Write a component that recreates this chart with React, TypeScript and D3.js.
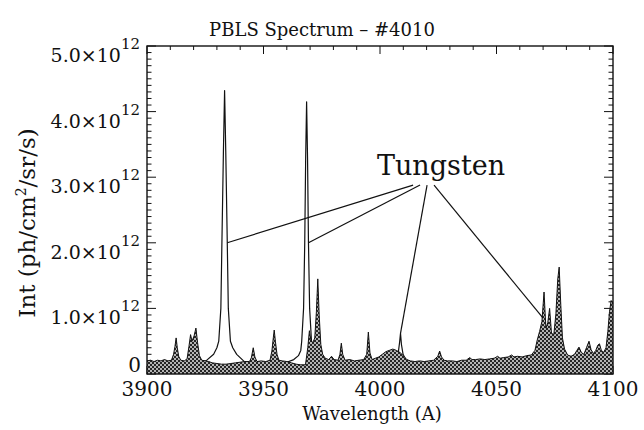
import React from "react";
import * as d3 from "d3";

// Wavelength range (Angstrom) and intensity range (units of 1e12 ph/cm^2/sr/s)
const xDomain: [number, number] = [3900, 4100];
const yDomain: [number, number] = [0, 5];
const xMajorTicks = [3900, 3950, 4000, 4050, 4100];
const yMajorTicks = [0, 1, 2, 3, 4, 5];

// Shaded spectrum (many lines) : [wavelength, intensity/1e12]
const spectrumShaded: [number, number][] = [
  [3900, 0.2], [3901.5, 0.21], [3903, 0.19], [3904.5, 0.21], [3906, 0.2], [3907.5, 0.22],
  [3909, 0.2], [3910.5, 0.21], [3911.4, 0.3], [3912.0, 0.42], [3912.5, 0.55], [3913.0, 0.4],
  [3913.6, 0.27], [3914.5, 0.21], [3916, 0.2], [3917.2, 0.23], [3918.0, 0.42], [3918.7, 0.6],
  [3919.3, 0.5], [3920.2, 0.58], [3921.0, 0.7], [3921.7, 0.48], [3922.5, 0.28], [3923.5, 0.21],
  [3925, 0.2], [3926.5, 0.19], [3928, 0.17], [3930, 0.16], [3932, 0.15], [3934, 0.15],
  [3936, 0.16], [3938, 0.17], [3940, 0.18], [3942, 0.19], [3944, 0.19], [3944.8, 0.25],
  [3945.6, 0.4], [3946.3, 0.26], [3947.2, 0.19], [3949, 0.2], [3951, 0.19], [3952.8, 0.21],
  [3953.6, 0.35], [3954.2, 0.55], [3954.6, 0.67], [3955.1, 0.5], [3955.8, 0.3], [3956.6, 0.21],
  [3958, 0.2], [3960, 0.19], [3962, 0.17], [3964, 0.15], [3966, 0.14], [3968, 0.14],
  [3969.0, 0.4], [3969.7, 0.66], [3970.4, 0.5], [3971.2, 0.48], [3972.0, 0.55], [3972.7, 0.95],
  [3973.3, 1.45], [3973.9, 0.9], [3974.6, 0.45], [3975.4, 0.3], [3976.5, 0.24], [3978, 0.22],
  [3979.2, 0.27], [3980.3, 0.22], [3982, 0.21], [3982.8, 0.3], [3983.4, 0.47], [3984.0, 0.3],
  [3985, 0.21], [3987, 0.22], [3989, 0.2], [3991, 0.21], [3993, 0.22], [3994.3, 0.3],
  [3995.0, 0.64], [3995.7, 0.32], [3996.6, 0.22], [3998, 0.24], [3999.5, 0.26], [4001, 0.3],
  [4002.5, 0.34], [4004, 0.36], [4005.5, 0.38], [4007, 0.36], [4008.5, 0.33], [4010, 0.28],
  [4011.5, 0.22], [4013, 0.2], [4015, 0.19], [4017, 0.2], [4019, 0.19], [4021, 0.2],
  [4023, 0.21], [4024.8, 0.27], [4025.6, 0.35], [4026.4, 0.26], [4027.5, 0.21], [4029, 0.2],
  [4031, 0.2], [4033, 0.19], [4035, 0.21], [4037, 0.21], [4038.5, 0.25], [4039.5, 0.22],
  [4041, 0.22], [4043, 0.23], [4045, 0.22], [4047, 0.23], [4049, 0.24], [4050.5, 0.27],
  [4051.5, 0.24], [4053, 0.25], [4055, 0.26], [4056.5, 0.29], [4057.5, 0.26], [4059, 0.27],
  [4061, 0.26], [4063, 0.28], [4065, 0.29], [4066.5, 0.36], [4067.5, 0.52], [4068.5, 0.65],
  [4069.5, 0.8], [4070.4, 1.25], [4071.2, 0.7], [4072.0, 0.78], [4072.8, 1.0], [4073.6, 0.62],
  [4074.6, 0.6], [4075.5, 0.92], [4076.3, 1.45], [4076.9, 1.63], [4077.6, 1.05], [4078.3, 0.55],
  [4079.2, 0.38], [4080.5, 0.29], [4082, 0.27], [4083.5, 0.3], [4084.5, 0.36], [4085.4, 0.41],
  [4086.4, 0.33], [4087.5, 0.3], [4088.6, 0.4], [4089.7, 0.5], [4090.6, 0.37], [4091.6, 0.31],
  [4092.6, 0.36], [4093.5, 0.44], [4094.2, 0.46], [4095.0, 0.36], [4096, 0.33], [4097, 0.4],
  [4097.8, 0.65], [4098.5, 0.95], [4099.2, 1.12], [4100, 1.08],
];

// Line spectrum (tungsten lines) : [wavelength, intensity/1e12]
const spectrumLine: [number, number][] = [
  [3900, 0.16], [3910, 0.16], [3918, 0.16], [3921.3, 0.17], [3925.3, 0.2], [3928.6, 0.3],
  [3930.0, 0.4], [3930.8, 0.5], [3931.7, 1.0], [3932.15, 2.0], [3932.8, 3.4], [3933.3, 4.32],
  [3933.8, 3.4], [3934.45, 2.0], [3934.9, 1.0], [3935.8, 0.5], [3936.8, 0.4], [3938.5, 0.3],
  [3942, 0.18], [3946, 0.16], [3952, 0.16], [3957, 0.16], [3960, 0.18], [3963, 0.22],
  [3965, 0.28], [3966.0, 0.36], [3966.4, 0.5], [3967.2, 1.0], [3967.7, 2.0], [3968.1, 3.3],
  [3968.5, 4.15], [3968.9, 3.3], [3969.3, 2.0], [3969.8, 1.0], [3970.6, 0.5], [3971.4, 0.36],
  [3972.5, 0.28], [3974, 0.22], [3977, 0.18], [3982, 0.17], [3990, 0.17], [4000, 0.18],
  [4005, 0.2], [4007, 0.24], [4007.9, 0.34], [4008.4, 0.48], [4008.8, 0.62], [4009.2, 0.45],
  [4009.9, 0.3], [4011, 0.22], [4014, 0.17], [4030, 0.17], [4050, 0.18], [4070, 0.2], [4100, 0.2],
];

// "Tungsten" annotation
const labelText = "Tungsten";
const labelPos: [number, number] = [4026.2, 3.03];
const pointerStarts: [number, number][] = [[4014.2, 2.88], [4017.2, 2.88], [4020.2, 2.88], [4023.2, 2.88]];
const pointerTargets: [number, number][] = [[3934.45, 2.0], [3969.3, 2.0], [4008.8, 0.62], [4070.0, 0.85]];

const titleText = "PBLS Spectrum \u2013 #4010";
const xTitle = "Wavelength (A)";
const yTitle = "Int (ph/cm";

const W = 644, H = 430;
const L = 147, R = 613, T = 46, B = 374;
const FONT = "DejaVu Serif, Liberation Serif, serif";

export default function App() {
  const x = d3.scaleLinear().domain(xDomain).range([L, R]);
  const y = d3.scaleLinear().domain(yDomain).range([B, T]);

  const area = d3.area<[number, number]>().x(d => x(d[0])).y0(y(0)).y1(d => y(d[1]));
  const topLine = d3.line<[number, number]>().x(d => x(d[0])).y(d => y(d[1]));

  const xMinor = d3.range(xDomain[0], xDomain[1] + 0.001, 10);
  const yMinor = d3.range(0, 50.001, 1).map(v => v / 10);

  const ticks: JSX.Element[] = [];
  xMinor.forEach((v, i) => {
    const major = xMajorTicks.includes(Math.round(v));
    const len = major ? 8 : 4;
    ticks.push(<line key={"xt" + i} x1={x(v)} x2={x(v)} y1={T} y2={T + len} />);
    ticks.push(<line key={"xb" + i} x1={x(v)} x2={x(v)} y1={B} y2={B - len} />);
  });
  yMinor.forEach((v, i) => {
    const major = Math.abs(v - Math.round(v)) < 1e-6;
    const len = major ? 9 : 4.5;
    ticks.push(<line key={"yl" + i} x1={L} x2={L + len} y1={y(v)} y2={y(v)} />);
    ticks.push(<line key={"yr" + i} x1={R} x2={R - len} y1={y(v)} y2={y(v)} />);
  });

  return (
    <svg width={W} height={H} style={{ position: "absolute", left: 0, top: 0, background: "#fff", fontFamily: FONT }}>
      <defs>
        <pattern id="dots" width={4} height={4} patternUnits="userSpaceOnUse">
          <rect width={4} height={4} fill="#262626" />
          <circle cx={1} cy={1} r={1.0} fill="#e4e4e4" />
          <circle cx={3} cy={3} r={1.0} fill="#e4e4e4" />
        </pattern>
      </defs>
      <rect width={W} height={H} fill="#fff" />

      <text x={322} y={36} textAnchor="middle" fontSize={18} fill="#111">{titleText}</text>

      <g stroke="#111" strokeWidth={1}>{ticks}</g>

      {/* line spectrum first, shaded spectrum drawn over it */}
      <path d={topLine(spectrumLine) || ""} fill="none" stroke="#111" strokeWidth={1.2} strokeLinejoin="round" />
      <path d={area(spectrumShaded) || ""} fill="url(#dots)" stroke="none" />
      <path d={topLine(spectrumShaded) || ""} fill="none" stroke="#111" strokeWidth={1} />

      <rect x={L} y={T} width={R - L} height={B - T} fill="none" stroke="#111" strokeWidth={1.4} />

      {/* y tick labels */}
      {yMajorTicks.map(v => v === 0 ? (
        <text key={"yl" + v} x={L - 6} y={y(v) - 2} textAnchor="end" fontSize={20} fill="#111">0</text>
      ) : (
        <text key={"yl" + v} x={L - 7} y={y(v) + 16} textAnchor="end" fontSize={19} fill="#111">
          {v.toFixed(1)}×10<tspan dy={-13} fontSize={15}>12</tspan>
        </text>
      ))}

      {/* x tick labels */}
      {xMajorTicks.map(v => (
        <text key={"xl" + v} x={x(v)} y={B + 22} textAnchor="middle" fontSize={20} fill="#111">{v}</text>
      ))}

      <text x={372} y={420} textAnchor="middle" fontSize={18} fill="#111">{xTitle}</text>
      <text transform={`translate(35, 223) rotate(-90)`} textAnchor="middle" fontSize={23} fill="#111">
        {yTitle}<tspan dy={-9} fontSize={14}>2</tspan><tspan dy={9}>/sr/s)</tspan>
      </text>

      {/* Tungsten annotation */}
      <text x={x(labelPos[0])} y={y(labelPos[1])} textAnchor="middle" fontSize={27} fill="#111">{labelText}</text>
      <g stroke="#111" strokeWidth={1.2}>
        {pointerTargets.map((t, i) => (
          <line key={"p" + i} x1={x(pointerStarts[i][0])} y1={y(pointerStarts[i][1])} x2={x(t[0])} y2={y(t[1])} />
        ))}
      </g>
    </svg>
  );
}
